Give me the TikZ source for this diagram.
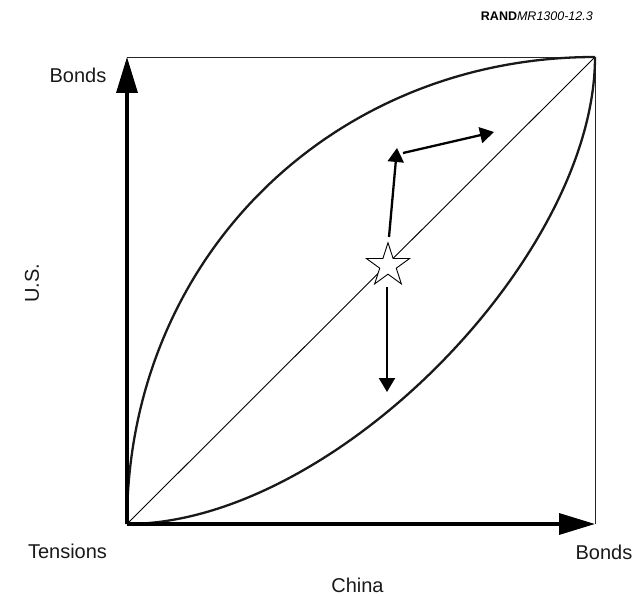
\documentclass[tikz,border=0pt]{standalone}
\usepackage{fontspec}
\setmainfont{Liberation Sans}
\usetikzlibrary{arrows.meta,shapes.geometric}
\tikzset{
  axisarrow/.style={line width=3.4pt,-{Triangle[length=36pt,width=21pt]}},
  movearrow/.style={line width=2.3pt,-{Triangle[length=14pt,width=16pt]}},
  frame/.style={line width=0.9pt,draw=black!85},
  curve/.style={line width=2.3pt,draw=black!90},
  lbl/.style={font=\fontsize{20}{24}\selectfont,inner sep=0pt,text=black!90},
}
\begin{document}
\begin{tikzpicture}[x=1pt,y=-1pt]
\useasboundingbox (0,0) rectangle (637,596);
% corners
\coordinate (O) at (127,524);
\coordinate (TL) at (127,57);
\coordinate (TR) at (595,57);
\coordinate (BR) at (595,524);
% frame
\draw[frame] (TL) -- (TR) -- (BR);
% diagonal
\draw[line width=0.9pt] (O) -- (TR);
% curves
\draw[curve] (O) .. controls (127,257) and (333,57) .. (TR);
\draw[curve] (O) .. controls (333,524) and (595,257) .. (TR);
% axes
\draw[axisarrow] (O) -- (TL);
\draw[axisarrow] (O) -- (BR);
% star
\node[star,star points=5,star point ratio=2.618,draw,fill=white,line width=0.9pt,minimum size=45.5pt,inner sep=0pt] (s) at (388,265.5) {};
% movement arrows
\coordinate (u0) at (389,237);
\coordinate (u1) at (397,148);
\coordinate (r0) at (403,153);
\coordinate (r1) at (494,132);
\coordinate (d0) at (387,287);
\coordinate (d1) at (387,392);
\draw[movearrow] (u0) -- (u1);
\draw[movearrow] (r0) -- (r1);
\draw[movearrow] (d0) -- (d1);
% labels
\node[lbl] (bondsY) at (78,75) {Bonds};
\node[lbl,rotate=90] (us) at (32,283) {U.S.};
\node[lbl] (tens) at (67.5,551) {Tensions};
\node[lbl] (bondsX) at (604,552) {Bonds};
\node[lbl] (china) at (357.5,585) {China};
\node[inner sep=0pt,anchor=east,font=\fontsize{12.5}{15}\selectfont] (rand) at (593,16) {\textbf{RAND}\textit{MR1300-12.3}};
\end{tikzpicture}
\end{document}
